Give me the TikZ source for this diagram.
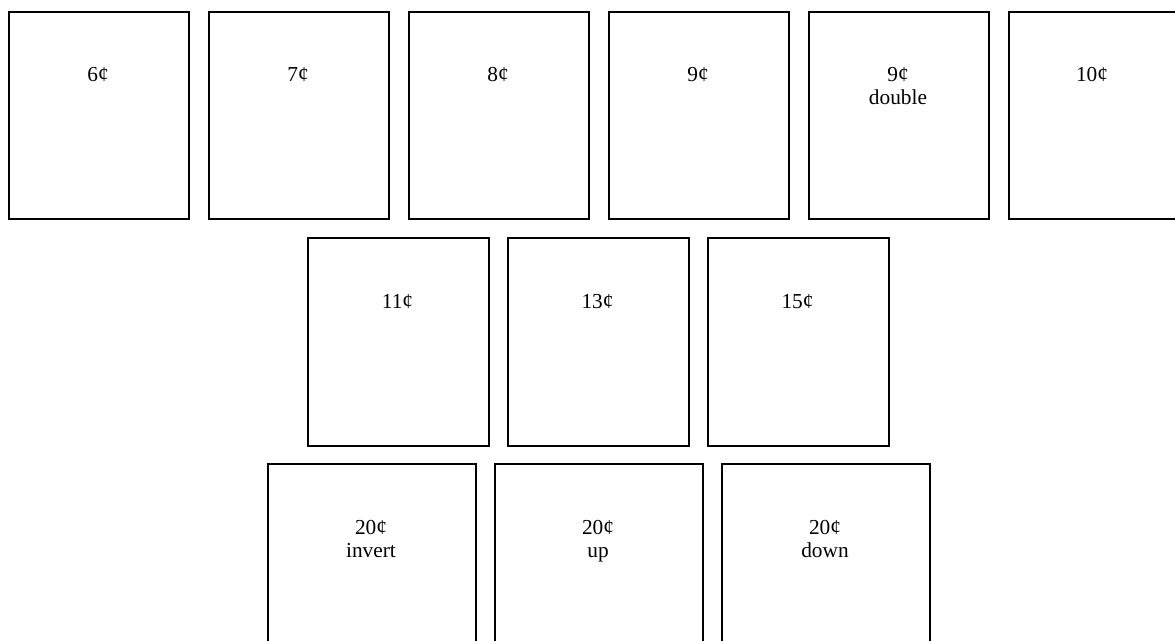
\documentclass[tikz,border=0pt]{standalone}
\usepackage{fontspec}
\setmainfont{Liberation Serif}
\begin{document}
\begin{tikzpicture}[x=0.75pt,y=-0.75pt,
  stamp/.style={draw=black,line width=1.3pt,fill=none,inner sep=0pt,anchor=north west},
  lbl/.style={font=\fontsize{16pt}{19pt}\selectfont,inner sep=0pt,anchor=base}]
\useasboundingbox (0,0) rectangle (1175,641);
\clip (0,0) rectangle (1175,641);
% top row
\foreach \i/\t [count=\k] in {0/6¢,1/7¢,2/8¢,3/9¢}{
  \node[stamp,minimum width=180*0.75pt,minimum height=207*0.75pt] (top\k) at (8+200*\i,11) {};
  \node[lbl] (ttop\k) at (98+200*\i,82) {\t};
}
\node[stamp,minimum width=180*0.75pt,minimum height=207*0.75pt] (topd) at (808,11) {};
\node[lbl] (ttopd) at (898,82) {9¢};
\node[lbl] (ttopd2) at (898,105) {double};
\node[stamp,minimum width=180*0.75pt,minimum height=207*0.75pt] (topt) at (1008,11) {};
\node[lbl] (ttopt) at (1092,82) {10¢};
% middle row
\foreach \x/\t [count=\k] in {307/11¢,507/13¢,707/15¢}{
  \node[stamp,minimum width=181*0.75pt,minimum height=208*0.75pt] (mid\k) at (\x,237) {};
  \node[lbl] (tmid\k) at (\x+90.5,309) {\t};
}
% bottom row
\foreach \x/\t [count=\k] in {267/invert,494/up,721/down}{
  \node[stamp,minimum width=208*0.75pt,minimum height=240*0.75pt] (bot\k) at (\x,463) {};
  \node[lbl] (tbot\k) at (\x+104,534) {20¢};
  \node[lbl] (tbotb\k) at (\x+104,557) {\t};
}
\end{tikzpicture}
\end{document}
